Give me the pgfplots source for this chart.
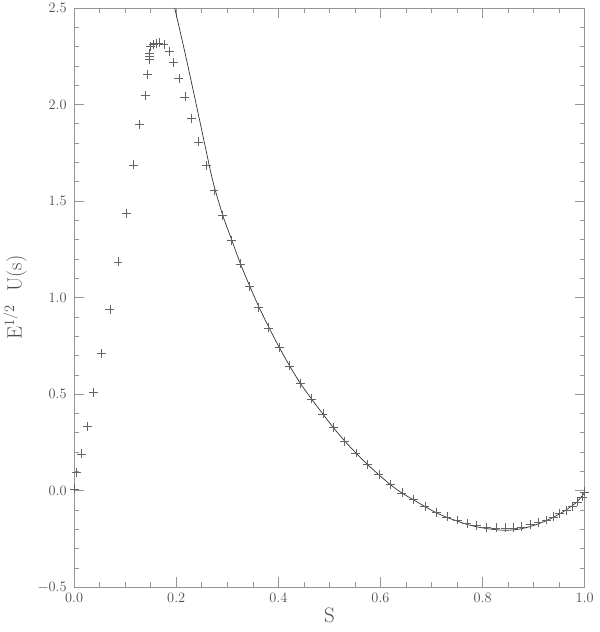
\documentclass[border=0pt]{standalone}
\usepackage{pgfplots}
\pgfplotsset{compat=1.18}
\definecolor{axgray}{RGB}{150,150,150}
\definecolor{markgray}{RGB}{100,100,100}
\definecolor{curvegray}{RGB}{50,50,50}
\begin{document}
\begin{tikzpicture}
\begin{axis}[
  name=ax,
  scale only axis,
  width=513pt, height=582pt,
  xmin=0, xmax=1, ymin=-0.5, ymax=2.5,
  xtick={0,0.2,0.4,0.6,0.8,1.0},
  ytick={-0.5,0,0.5,1,1.5,2,2.5},
  minor x tick num=3,
  minor y tick num=4,
  tick align=inside,
  major tick length=10pt,
  minor tick length=5pt,
  axis line style={axgray, line width=0.6pt},
  every tick/.style={axgray, line width=0.6pt},
  tick label style={font=\fontsize{15}{17}\selectfont, text=black!70},
  xticklabel style={yshift=-3pt},
  yticklabel style={xshift=-4pt},
  xticklabel={\pgfmathprintnumber[fixed,fixed zerofill,precision=1]{\tick}},
  yticklabel={\pgfmathprintnumber[fixed,fixed zerofill,precision=1]{\tick}},
  xlabel={S},
  ylabel={$\mathrm{E}^{1/2}\ \ \mathrm{U(s)}$},
  xlabel style={font=\fontsize{21}{23}\selectfont, text=black!70, yshift=2pt},
  ylabel style={font=\fontsize{22}{24}\selectfont, text=black!70, yshift=4pt},
  clip=true,
]
\addplot[only marks, mark=+, mark size=4.5pt, markgray, mark options={line width=0.45pt}] coordinates {
(0.000,0.010)(0.0045,0.094)(0.014,0.190)(0.026,0.333)(0.038,0.508)(0.053,0.710)
(0.070,0.939)(0.086,1.185)(0.102,1.437)(0.116,1.687)(0.128,1.898)(0.139,2.047)
(0.144,2.157)(0.148,2.233)(0.148,2.250)(0.148,2.265)(0.150,2.300)(0.155,2.312)
(0.160,2.315)(0.166,2.319)(0.176,2.312)(0.186,2.274)(0.195,2.219)(0.205,2.135)
(0.217,2.040)(0.230,1.929)(0.244,1.807)(0.259,1.683)(0.274,1.556)(0.291,1.425)
(0.308,1.296)(0.325,1.174)(0.343,1.059)(0.361,0.951)(0.381,0.843)(0.402,0.741)
(0.422,0.647)(0.443,0.556)(0.465,0.475)(0.487,0.398)(0.508,0.326)(0.530,0.255)
(0.552,0.195)(0.575,0.135)(0.597,0.084)(0.620,0.032)(0.642,-0.011)(0.665,-0.045)
(0.687,-0.080)(0.709,-0.112)(0.730,-0.135)(0.751,-0.152)(0.769,-0.169)(0.788,-0.181)
(0.808,-0.190)(0.826,-0.193)(0.844,-0.193)(0.860,-0.192)(0.876,-0.187)(0.893,-0.176)
(0.909,-0.166)(0.925,-0.152)(0.938,-0.135)(0.951,-0.118)(0.964,-0.101)(0.976,-0.080)
(0.986,-0.058)(0.995,-0.032)(1.000,-0.006)
};
\addplot[curvegray, line width=0.7pt, smooth] coordinates {
(0.197,2.50)(0.217,2.27)(0.234,2.064)(0.253,1.83)(0.272,1.60)(0.292,1.42)
(0.309,1.296)(0.326,1.174)(0.344,1.059)(0.362,0.951)(0.382,0.843)(0.402,0.741)
(0.422,0.647)(0.443,0.556)(0.465,0.475)(0.487,0.398)(0.508,0.326)(0.530,0.257)
(0.552,0.195)(0.575,0.135)(0.597,0.082)(0.620,0.030)(0.642,-0.012)(0.665,-0.048)
(0.687,-0.082)(0.709,-0.114)(0.730,-0.138)(0.751,-0.158)(0.770,-0.175)(0.790,-0.188)
(0.810,-0.197)(0.830,-0.203)(0.845,-0.205)(0.860,-0.203)(0.876,-0.197)(0.893,-0.186)
(0.909,-0.172)(0.925,-0.155)(0.940,-0.136)(0.955,-0.114)(0.970,-0.088)(0.985,-0.058)
(1.000,-0.010)
};
\end{axis}
\path ([xshift=-73pt,yshift=-45pt]ax.south west) rectangle ([xshift=15pt,yshift=5pt]ax.north east);
\end{tikzpicture}
\end{document}
